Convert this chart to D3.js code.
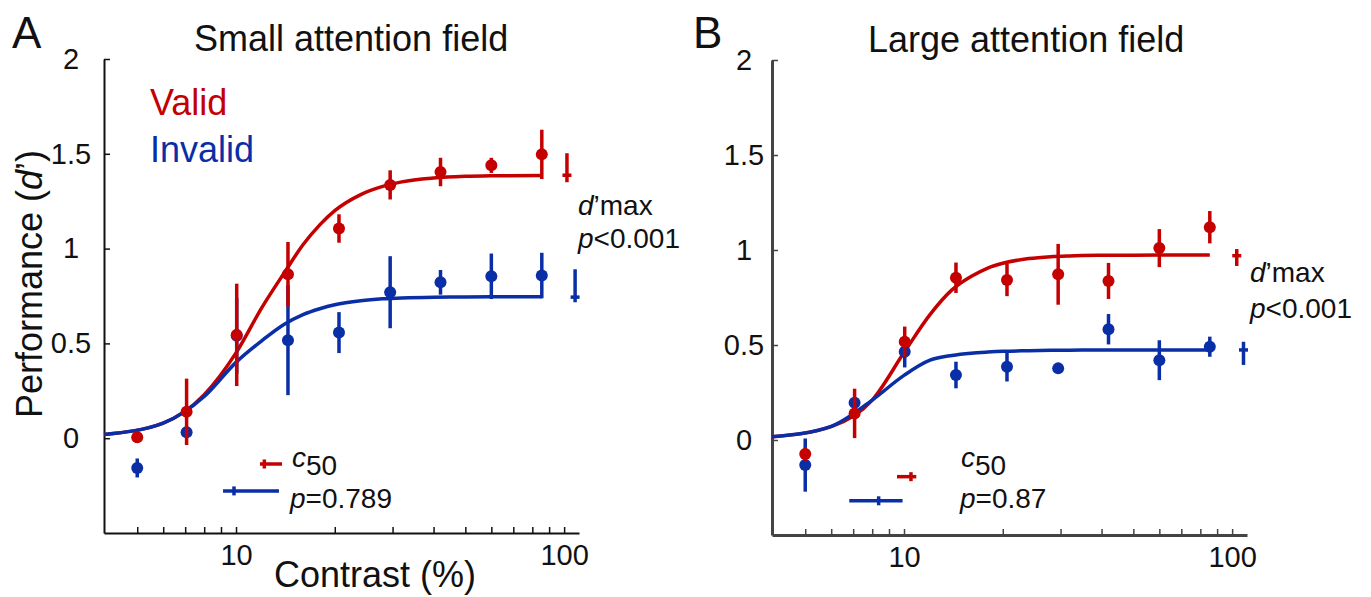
<!DOCTYPE html>
<html>
<head>
<meta charset="utf-8">
<script src="https://cdnjs.cloudflare.com/ajax/libs/d3/7.8.5/d3.min.js"></script>
<style>
  body { margin: 0; background: #fff; }
  svg { display: block; }
  text { font-family: "Liberation Sans", Arial, Helvetica, sans-serif; fill: #111; }
</style>
</head>
<body>
<svg id="chart"></svg>
<script>
"use strict";

// stimulus contrast levels (%)
var contrast = [5, 7.07, 10.05, 14.4, 20.6, 29.5, 42, 60, 85.5];

// small attention field, d' +- error
var smallValid      = [0.005, 0.139, 0.545, 0.865, 1.106, 1.336, 1.404, 1.439, 1.497];
var smallValidErr   = [0.03, 0.175, 0.27, 0.17, 0.075, 0.077, 0.075, 0.04, 0.13];
var smallInvalid    = [-0.157, 0.032, 0.54, 0.517, 0.557, 0.77, 0.822, 0.854, 0.858];
var smallInvalidErr = [0.05, 0.03, 0.2, 0.29, 0.108, 0.19, 0.065, 0.12, 0.12];

// large attention field
var largeValid      = [-0.074, 0.14, 0.517, 0.854, 0.842, 0.872, 0.837, 1.01, 1.12];
var largeValidErr   = [0.035, 0.13, 0.08, 0.08, 0.085, 0.16, 0.095, 0.1, 0.085];
var largeInvalid    = [-0.132, 0.196, 0.465, 0.342, 0.386, 0.377, 0.583, 0.42, 0.491];
var largeInvalidErr = [0.14, 0.03, 0.083, 0.07, 0.078, 0.02, 0.08, 0.105, 0.053];

// fitted curves
var fitContrast      = [3.96, 6, 8, 10, 12, 14, 16, 18, 20, 24, 28, 32, 40, 50, 60, 85.5];
var smallValidFit    = [0.02, 0.08, 0.23, 0.45, 0.69, 0.87, 1.02, 1.125, 1.2, 1.285, 1.328, 1.352, 1.372, 1.381, 1.384, 1.386];
var smallInvalidFit  = [0.02, 0.08, 0.22, 0.40, 0.515, 0.60, 0.652, 0.683, 0.704, 0.725, 0.735, 0.740, 0.744, 0.745, 0.746, 0.746];
var largeValidFit    = [0.017, 0.07, 0.21, 0.46, 0.66, 0.79, 0.86, 0.905, 0.93, 0.955, 0.965, 0.969, 0.972, 0.973, 0.974, 0.974];
var largeInvalidFit  = [0.017, 0.072, 0.21, 0.34, 0.42, 0.445, 0.457, 0.463, 0.467, 0.47, 0.472, 0.473, 0.474, 0.474, 0.474, 0.474];

// d'max parameter estimates [valid, invalid]
var smallDmaxAt = [102, 108];
var smallDmax   = [1.387, 0.744];
var smallDmaxLo = [1.35, 0.717];
var smallDmaxHi = [1.503, 0.891];
var largeDmaxAt = [103.3, 108.3];
var largeDmax   = [0.97, 0.474];
var largeDmaxLo = [0.916, 0.395];
var largeDmaxHi = [1.005, 0.517];

// c50 parameter estimates [valid, invalid]
var smallC50    = [12.2, 9.86];
var smallC50Lo  = [11.83, 9.13];
var smallC50Hi  = [13.81, 13.52];
var smallC50Row = [-0.136, -0.278];
var largeC50    = [10.5, 8.37];
var largeC50Lo  = [9.52, 6.81];
var largeC50Hi  = [10.9, 9.9];
var largeC50Row = [-0.193, -0.32];

var yTicks = [0, 0.5, 1, 1.5, 2];
var xTicks = [5, 6, 7, 8, 9, 10, 20, 30, 40, 50, 60, 70, 80, 90, 100];
var xLabels = [10, 100];

var RED = '#c40000';
var BLUE = '#0a2ea6';

var W = 1371, H = 597;
var svg = d3.select('#chart').attr('width', W).attr('height', H);

function addText(x, y, parts, size, opts) {
    opts = opts || {};
    var t = svg.append('text')
        .attr('x', x).attr('y', y)
        .attr('font-size', size)
        .attr('text-anchor', opts.anchor || 'start');
    if (opts.fill) t.style('fill', opts.fill);
    if (opts.rotate) t.attr('transform', 'rotate(' + opts.rotate + ',' + x + ',' + y + ')');
    parts.forEach(function(p) {
        if (typeof p === 'string') p = { t: p };
        var s = t.append('tspan').text(p.t);
        if (p.italic) s.attr('font-style', 'italic');
    });
    return t;
}

function drawPanel(cfg) {
    var x = d3.scaleLog().domain([3.96, 111]).range([cfg.left, cfg.right]);
    var y = d3.scaleLinear().domain([-0.5, 2]).range([cfg.bottom, cfg.top]);
    var g = svg.append('g');

    // axes, ticks pointing inward
    var yAxis = d3.axisLeft(y).tickValues(yTicks).tickSizeInner(-6).tickSizeOuter(0)
        .tickFormat(d3.format('~g'));
    var ya = g.append('g').attr('transform', 'translate(' + cfg.left + ',0)').call(yAxis);
    ya.selectAll('text').attr('text-anchor', 'middle').attr('x', -cfg.labelOff)
        .attr('font-size', 29).attr('font-family', null).style('fill', '#111');

    var xAxis = d3.axisBottom(x).tickValues(xTicks).tickSizeInner(-6).tickSizeOuter(0)
        .tickFormat(function(d) { return xLabels.indexOf(d) >= 0 ? d : ''; })
        .tickPadding(11);
    var xa = g.append('g').attr('transform', 'translate(0,' + cfg.bottom + ')').call(xAxis);
    xa.selectAll('text').attr('font-size', 29).attr('font-family', null).style('fill', '#111');

    [ya, xa].forEach(function(a) {
        a.select('.domain').attr('stroke', cfg.axisColor).attr('stroke-width', cfg.axisWidth);
        a.selectAll('.tick line').attr('stroke', cfg.axisColor).attr('stroke-width', 1.5);
    });

    // fitted curves
    var line = d3.line()
        .x(function(d) { return x(d[0]); })
        .y(function(d) { return y(d[1]); })
        .curve(d3.curveMonotoneX);
    [[cfg.validFit, RED], [cfg.invalidFit, BLUE]].forEach(function(s) {
        g.append('path')
            .datum(fitContrast.map(function(c, i) { return [c, s[0][i]]; }))
            .attr('d', line)
            .attr('fill', 'none')
            .attr('stroke', s[1])
            .attr('stroke-width', 3.5);
    });

    // data points with error bars
    [[cfg.invalid, cfg.invalidErr, BLUE], [cfg.valid, cfg.validErr, RED]].forEach(function(s) {
        var pts = contrast.map(function(c, i) { return { c: c, v: s[0][i], e: s[1][i] }; });
        g.append('g').selectAll('line').data(pts).join('line')
            .attr('x1', function(d) { return x(d.c); })
            .attr('x2', function(d) { return x(d.c); })
            .attr('y1', function(d) { return y(d.v - d.e); })
            .attr('y2', function(d) { return y(d.v + d.e); })
            .attr('stroke', s[2]).attr('stroke-width', 3.5);
        g.append('g').selectAll('circle').data(pts).join('circle')
            .attr('cx', function(d) { return x(d.c); })
            .attr('cy', function(d) { return y(d.v); })
            .attr('r', 6)
            .attr('fill', s[2]);
    });

    // d'max estimates (vertical bars) and c50 estimates (horizontal bars)
    [RED, BLUE].forEach(function(col, i) {
        var px = x(cfg.dmaxAt[i]);
        g.append('line')
            .attr('x1', px).attr('x2', px)
            .attr('y1', y(cfg.dmaxLo[i])).attr('y2', y(cfg.dmaxHi[i]))
            .attr('stroke', col).attr('stroke-width', 3.5);
        g.append('line')
            .attr('x1', px - 4.5).attr('x2', px + 4.5)
            .attr('y1', y(cfg.dmax[i])).attr('y2', y(cfg.dmax[i]))
            .attr('stroke', col).attr('stroke-width', 3.5);

        var py = y(cfg.c50Row[i]);
        g.append('line')
            .attr('x1', x(cfg.c50Lo[i])).attr('x2', x(cfg.c50Hi[i]))
            .attr('y1', py).attr('y2', py)
            .attr('stroke', col).attr('stroke-width', 3.5);
        g.append('line')
            .attr('x1', x(cfg.c50[i])).attr('x2', x(cfg.c50[i]))
            .attr('y1', py - 4.5).attr('y2', py + 4.5)
            .attr('stroke', col).attr('stroke-width', 3.5);
    });
}

drawPanel({
    left: 104, right: 579, top: 59, bottom: 533, labelOff: 33,
    axisColor: '#111', axisWidth: 2,
    valid: smallValid, validErr: smallValidErr,
    invalid: smallInvalid, invalidErr: smallInvalidErr,
    validFit: smallValidFit, invalidFit: smallInvalidFit,
    dmaxAt: smallDmaxAt, dmax: smallDmax, dmaxLo: smallDmaxLo, dmaxHi: smallDmaxHi,
    c50: smallC50, c50Lo: smallC50Lo, c50Hi: smallC50Hi, c50Row: smallC50Row
});

drawPanel({
    left: 772, right: 1247, top: 60, bottom: 535, labelOff: 28,
    axisColor: '#444', axisWidth: 3,
    valid: largeValid, validErr: largeValidErr,
    invalid: largeInvalid, invalidErr: largeInvalidErr,
    validFit: largeValidFit, invalidFit: largeInvalidFit,
    dmaxAt: largeDmaxAt, dmax: largeDmax, dmaxLo: largeDmaxLo, dmaxHi: largeDmaxHi,
    c50: largeC50, c50Lo: largeC50Lo, c50Hi: largeC50Hi, c50Row: largeC50Row
});

// panel A text
addText(12, 48, ['A'], 44);
addText(194, 51, ['Small attention field'], 36);
addText(150, 115, ['Valid'], 36, { fill: RED });
addText(150, 162, ['Invalid'], 36, { fill: BLUE });
addText(578, 215, [{ t: 'd', italic: true }, '\u2019max'], 28);
addText(578, 248, [{ t: 'p', italic: true }, '<0.001'], 28);
addText(292, 467, [{ t: 'c', italic: true }], 28);
addText(306, 475, ['50'], 28);
addText(290, 508, [{ t: 'p', italic: true }, '=0.789'], 28);
addText(375, 587, ['Contrast (%)'], 36, { anchor: 'middle' });
addText(42, 284, ['Performance (', { t: 'd', italic: true }, '\u2019)'], 36, { anchor: 'middle', rotate: -90 });

// panel B text
addText(693, 48, ['B'], 44);
addText(868, 52, ['Large attention field'], 36);
addText(1250, 282, [{ t: 'd', italic: true }, '\u2019max'], 28);
addText(1250, 318, [{ t: 'p', italic: true }, '<0.001'], 28);
addText(961, 467, [{ t: 'c', italic: true }], 28);
addText(975, 475, ['50'], 28);
addText(960, 508, [{ t: 'p', italic: true }, '=0.87'], 28);
</script>
</body>
</html>
